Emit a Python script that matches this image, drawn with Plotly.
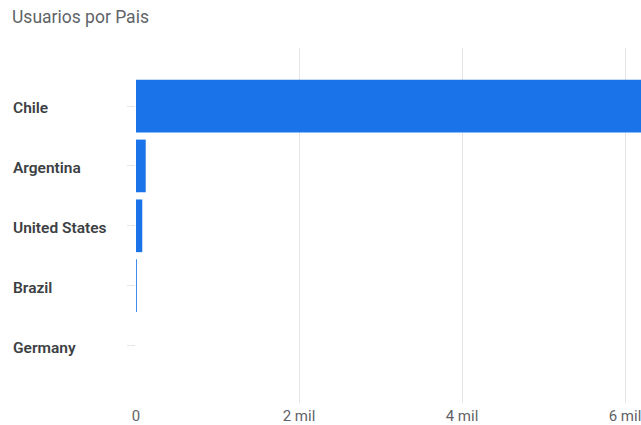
import plotly.graph_objects as go

paises = ["Chile", "Argentina", "United States", "Brazil", "Germany"]
usuarios = [6900, 119, 77, 10, 0]
tick_vals = [0, 2000, 4000, 6000]
tick_text = ["0", "2 mil", "4 mil", "6 mil"]
titulo = "Usuarios por Pais"

W, H = 641, 425
L, R, T, B = 136, 0, 48, 18
plot_w = W - L - R

fig = go.Figure(go.Bar(
    x=usuarios, y=paises, orientation="h",
    marker=dict(color="#1a73e8", line=dict(width=0)),
    width=0.88, hoverinfo="skip",
))

for p in paises:
    fig.add_annotation(
        x=(11 - L) / plot_w, xref="paper", xanchor="left",
        y=p, yref="y", yanchor="middle", yshift=-2,
        text=p, showarrow=False,
        font=dict(family="Roboto", size=15.5, color="#3c4043", weight=600),
    )

fig.update_layout(
    width=W, height=H,
    margin=dict(l=L, r=R, t=T, b=B),
    paper_bgcolor="white", plot_bgcolor="white",
    showlegend=False,
    title=dict(text=titulo, x=12 / W, xanchor="left", xref="container",
               y=1 - 17 / H, yanchor="middle", yref="container",
               font=dict(family="Roboto", size=17.5, color="#5f6368")),
)
fig.update_xaxes(
    range=[0, plot_w / 163 * 2000],
    tickvals=tick_vals, ticktext=tick_text,
    ticklabeloverflow="allow", ticklabelstandoff=2,
    showgrid=True, gridcolor="#e6e6e6", gridwidth=1,
    zeroline=False, showline=False, ticks="",
    tickfont=dict(family="Roboto", size=15, color="#5f6368"),
    fixedrange=True,
)
fig.update_yaxes(
    type="category", categoryorder="array", categoryarray=paises,
    range=[4.96, -0.97],
    showticklabels=False, showgrid=False, zeroline=False, showline=False,
    ticks="outside", ticklen=8, tickcolor="#e6e6e6", tickwidth=1,
    fixedrange=True,
)

fig.write_html(
    "out.html",
    config={"displayModeBar": False, "staticPlot": True},
    post_script="document.body.style.margin='0';document.body.style.overflow='hidden';",
)
